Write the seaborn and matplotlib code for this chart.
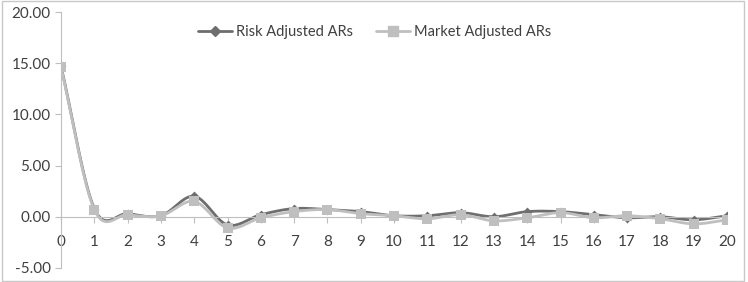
import numpy as np
import pandas as pd
import seaborn as sns
import matplotlib.pyplot as plt
from matplotlib.lines import Line2D
from matplotlib.patches import Rectangle

# Event days and abnormal returns
days = list(range(0, 21))
risk_adj = [14.7, 0.8, 0.3, 0.1, 2.0, -0.8, 0.2, 0.8, 0.7, 0.5, 0.1,
            0.1, 0.4, 0.0, 0.5, 0.5, 0.2, -0.1, 0.0, -0.3, 0.1]
market_adj = [14.6, 0.7, 0.2, 0.1, 1.5, -1.1, -0.1, 0.5, 0.7, 0.3, 0.1,
              -0.2, 0.2, -0.4, -0.1, 0.4, -0.1, 0.1, -0.2, -0.7, -0.3]
series_names = ["Risk Adjusted ARs", "Market Adjusted ARs"]
y_ticks = [-5, 0, 5, 10, 15, 20]

dark = "#6e6e6e"
light = "#bfbfbf"


def smooth(x, y, n=20):
    # Catmull-Rom style curve, like Excel's "smoothed line"
    x = np.asarray(x, float)
    y = np.asarray(y, float)
    px = np.concatenate([[2 * x[0] - x[1]], x, [2 * x[-1] - x[-2]]])
    py = np.concatenate([[2 * y[0] - y[1]], y, [2 * y[-1] - y[-2]]])
    xs, ys = [], []
    t = np.linspace(0, 1, n, endpoint=False)
    for i in range(1, len(px) - 2):
        for arr, out in ((px, xs), (py, ys)):
            p0, p1, p2, p3 = arr[i - 1], arr[i], arr[i + 1], arr[i + 2]
            out.extend(0.5 * ((2 * p1) + (-p0 + p2) * t
                              + (2 * p0 - 5 * p1 + 4 * p2 - p3) * t ** 2
                              + (-p0 + 3 * p1 - 3 * p2 + p3) * t ** 3))
    xs.append(x[-1])
    ys.append(y[-1])
    return np.array(xs), np.array(ys)


sns.set_style("white")
plt.rcParams["font.family"] = ["Lato", "DejaVu Sans"]

fig = plt.figure(figsize=(7.48, 2.82), dpi=100)
ax = fig.add_axes([0.0816, 0.05, 0.8904, 0.907])

# risk adjusted first, market adjusted drawn on top
sx, sy = smooth(days, risk_adj)
sns.lineplot(x=sx, y=sy, ax=ax, color=dark, lw=2, sort=False, zorder=2)
sns.scatterplot(x=days, y=risk_adj, ax=ax, color=dark, marker="D", s=25,
                linewidth=0, zorder=3)
sx, sy = smooth(days, market_adj)
sns.lineplot(x=sx, y=sy, ax=ax, color=light, lw=2, sort=False, zorder=4)
sns.scatterplot(x=days, y=market_adj, ax=ax, color=light, marker="s", s=49,
                linewidth=0, zorder=5)

ax.set_xlim(0, 20)
ax.set_ylim(-5, 20)
ax.set_yticks(y_ticks)
ax.set_yticklabels([f"{v:.2f}" for v in y_ticks])
ax.set_xticks(days)

for s in ["top", "right"]:
    ax.spines[s].set_visible(False)
ax.spines["left"].set_color("#bfbfbf")
ax.spines["bottom"].set_position(("data", 0))
ax.spines["bottom"].set_color("#bfbfbf")
ax.tick_params(axis="y", length=4, color="#bfbfbf", labelsize=11,
               labelcolor="#404040", left=True, direction="out")
ax.tick_params(axis="x", length=4, color="#bfbfbf", labelsize=11,
               labelcolor="#404040", bottom=True, direction="out", pad=9)

handles = [Line2D([], [], color=dark, lw=2, marker="D", ms=5),
           Line2D([], [], color=light, lw=2, marker="s", ms=7)]
ax.legend(handles, series_names, loc="upper center", bbox_to_anchor=(0.471, 1.0),
          ncol=2, frameon=False, fontsize=10.5, handlelength=2.3,
          handletextpad=0.3, columnspacing=1.6, labelcolor="#404040")

fig.patches.append(Rectangle((0.003, 0.005), 0.992, 0.99, transform=fig.transFigure,
                             fill=False, edgecolor="#c8c8c8", lw=1))

fig.savefig("out.png", dpi=100)
